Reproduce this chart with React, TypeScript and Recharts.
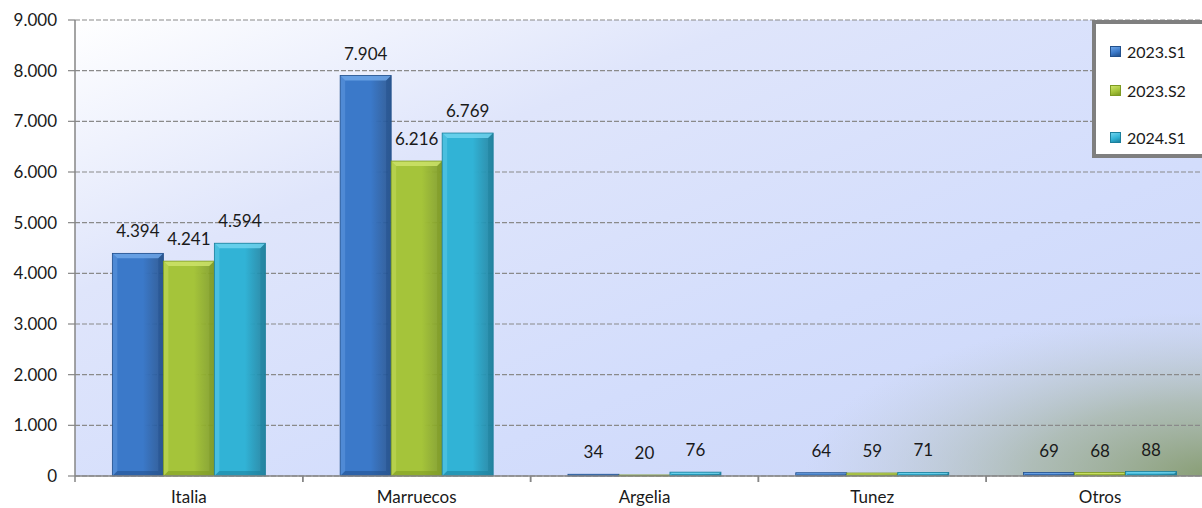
import React from "react";
import { BarChart, Bar, XAxis, YAxis, CartesianGrid, LabelList } from "recharts";

const categories = ["Italia", "Marruecos", "Argelia", "Tunez", "Otros"];
const s2023S1 = [4394, 7904, 34, 64, 69];
const s2023S2 = [4241, 6216, 20, 59, 68];
const s2024S1 = [4594, 6769, 76, 71, 88];
const yTicks = [0, 1000, 2000, 3000, 4000, 5000, 6000, 7000, 8000, 9000];

const series = [
  { key: "s1", name: "2023.S1", base: "#3b79c9", light: "#6ea6e8", dark: "#22508c" },
  { key: "s2", name: "2023.S2", base: "#a5c43a", light: "#cde36a", dark: "#7d9a22" },
  { key: "s3", name: "2024.S1", base: "#31b3d6", light: "#6fd3ee", dark: "#1b7f9c" },
];

const data = categories.map((name, i) => ({
  name,
  s1: s2023S1[i],
  s2: s2023S2[i],
  s3: s2024S1[i],
}));

const FONT = "Lato, 'Liberation Sans', sans-serif";
const AXIS = "#868686";

const fmt = (v: number) => String(v).replace(/\B(?=(\d{3})+(?!\d))/g, ".");

function bevelShape(s: (typeof series)[number]) {
  return (props: any) => {
    const { x, y, width, height } = props;
    if (!height || height <= 0) return <g />;
    const b = Math.min(5, height / 2, width / 4);
    return (
      <g>
        <rect x={x} y={y} width={width} height={height} fill={`url(#body-${s.key})`} />
        <polygon
          points={`${x},${y} ${x + width},${y} ${x + width - b},${y + b} ${x + b},${y + b}`}
          fill={s.light}
          opacity={0.85}
        />
        <polygon
          points={`${x},${y} ${x + b},${y + b} ${x + b},${y + height - b} ${x},${y + height}`}
          fill={s.light}
          opacity={0.4}
        />
        <polygon
          points={`${x + width},${y} ${x + width - b},${y + b} ${x + width - b},${y + height - b} ${x + width},${y + height}`}
          fill={s.dark}
          opacity={0.5}
        />
        <polygon
          points={`${x},${y + height} ${x + b},${y + height - b} ${x + width - b},${y + height - b} ${x + width},${y + height}`}
          fill={s.dark}
          opacity={0.55}
        />
        <rect x={x} y={y} width={width} height={height} fill="none" stroke={s.dark} strokeWidth={0.8} />
      </g>
    );
  };
}

const ValueLabel = (props: any) => {
  const { x, y, width, value } = props;
  return (
    <text x={x + width / 2} y={y - 16} textAnchor="middle" fill="#1a1a1a" fontSize={17} fontFamily={FONT}>
      {fmt(value)}
    </text>
  );
};

const CategoryTick = (props: any) => {
  const { x, y, payload, width, visibleTicksCount } = props;
  const n = visibleTicksCount || categories.length;
  const half = (width || 1139) / n / 2;
  return (
    <g>
      <line x1={x - half} x2={x - half} y1={y} y2={y + 6} stroke={AXIS} strokeWidth={1.5} />
      <line x1={x + half} x2={x + half} y1={y} y2={y + 6} stroke={AXIS} strokeWidth={1.5} />
      <text x={x} y={y + 27} textAnchor="middle" fill="#1a1a1a" fontSize={17} fontFamily={FONT}>
        {payload.value}
      </text>
    </g>
  );
};

const itemGaps = [0, 19, 27];

const LegendBox = () => (
  <div
    style={{
      position: "absolute",
      left: 1092,
      top: 20,
      boxSizing: "border-box",
      width: 160,
      height: 138,
      borderTop: "4px solid #7f7f7f",
      borderBottom: "4px solid #7f7f7f",
      borderLeft: "4px solid #7f7f7f",
      borderRight: "none",
      background: "#ffffff",
      paddingTop: 17,
      paddingLeft: 14,
      fontFamily: FONT,
      fontSize: 16,
      color: "#1a1a1a",
    }}
  >
    {series.map((s, i) => (
      <div
        key={s.key}
        style={{ display: "flex", alignItems: "center", height: 20, marginTop: itemGaps[i], whiteSpace: "nowrap" }}
      >
        <span
          style={{
            display: "inline-block",
            width: 9,
            height: 9,
            marginRight: 6,
            background: `linear-gradient(160deg, ${s.light}, ${s.base} 55%, ${s.dark})`,
            border: `1px solid ${s.dark}`,
          }}
        />
        {s.name}
      </div>
    ))}
  </div>
);

export default function App() {
  return (
    <div
      style={{
        position: "absolute",
        left: 0,
        top: 0,
        width: 1202,
        height: 508,
        overflow: "hidden",
        background: "#ffffff",
      }}
    >
      <BarChart
        width={1214}
        height={508}
        data={data}
        margin={{ top: 20, right: 0, bottom: 0, left: 0 }}
        barCategoryGap="16.4%"
        barGap={0}
      >
        <defs>
          <linearGradient id="plotBg" x1="0" y1="0" x2="1" y2="1">
            <stop offset="0" stopColor="#ffffff" />
            <stop offset="0.3" stopColor="#dfe5fb" />
            <stop offset="0.65" stopColor="#d3ddfc" />
            <stop offset="1" stopColor="#cbd6f8" />
          </linearGradient>
          <radialGradient id="cornerBg" cx="1" cy="1" r="0.36">
            <stop offset="0" stopColor="#849a6c" stopOpacity={0.95} />
            <stop offset="0.45" stopColor="#9aab8c" stopOpacity={0.6} />
            <stop offset="1" stopColor="#b8c4c8" stopOpacity={0} />
          </radialGradient>
          {series.map((s) => (
            <linearGradient key={s.key} id={`body-${s.key}`} x1="0" y1="0" x2="1" y2="0">
              <stop offset="0" stopColor={s.base} />
              <stop offset="0.6" stopColor={s.base} />
              <stop offset="1" stopColor={s.dark} stopOpacity={0.9} />
            </linearGradient>
          ))}
        </defs>
        <CartesianGrid horizontal={false} vertical={false} fill="url(#plotBg)" stroke="none" />
        <CartesianGrid
          vertical={false}
          fill="url(#cornerBg)"
          stroke="#8a8a8a"
          strokeWidth={1.2}
          strokeDasharray="5 2"
        />
        <XAxis
          dataKey="name"
          height={32}
          tickSize={0}
          tickMargin={0}
          tickLine={false}
          axisLine={{ stroke: AXIS, strokeWidth: 1.5 }}
          tick={<CategoryTick />}
          interval={0}
        />
        <YAxis
          width={75}
          domain={[0, 9000]}
          ticks={yTicks}
          interval={0}
          tickSize={7}
          tickMargin={11}
          tickFormatter={fmt}
          axisLine={{ stroke: AXIS, strokeWidth: 1.5 }}
          tickLine={{ stroke: AXIS, strokeWidth: 1.2 }}
          tick={{ fill: "#1a1a1a", fontSize: 17, fontFamily: FONT }}
        />
        {series.map((s) => (
          <Bar key={s.key} dataKey={s.key} name={s.name} fill={s.base} shape={bevelShape(s)} isAnimationActive={false}>
            <LabelList dataKey={s.key} content={<ValueLabel />} />
          </Bar>
        ))}
      </BarChart>
      <LegendBox />
    </div>
  );
}
